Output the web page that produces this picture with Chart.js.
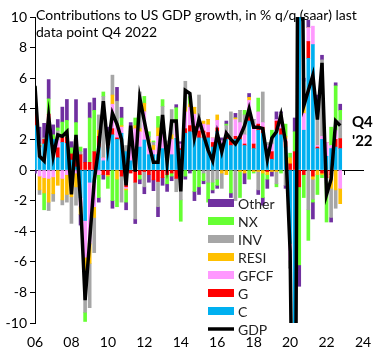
<!DOCTYPE html>
<html><head><meta charset="utf-8">
<script src="https://cdn.jsdelivr.net/npm/chart.js@4.4.1/dist/chart.umd.min.js"></script>
<style>html,body{margin:0;padding:0;background:#fff}#wrap{position:relative;width:385px;height:357px}</style>
</head><body><div id="wrap"><canvas id="c" width="385" height="357"></canvas></div>
<script>
const quarters = [];
for (let y = 2006; y <= 2022; y++) for (let q = 1; q <= 4; q++) quarters.push(y + 'Q' + q);
const xTicks = ['06','08','10','12','14','16','18','20','22','24'];

const C    = [2.9,1.5,1.7,2.9, 2.0,0.8,1.8,1.74, 0.65,0.2,-1.8,-3.3, -0.8,-0.8,1.5,0.6, 1.5,2.3,2.0,2.4, 1.2,0.6,1.3,1.5, 1.96,1.0,1.0,1.0, 1.4,1.1,1.0,2.07, 1.3,2.4,2.5,2.5, 2.1,2.1,2.1,1.5, 2.5,1.7,2.0,1.6, 2.0,2.0,1.6,3.2, 1.4,2.6,2.4,1.0, 0.7,2.6,2.3,1.5, -4.8,-23.5,27,2.6, 7.3,8.2,1.4,2.0, 0.9,1.4,1.5,1.4];
const G    = [0.8,0.1,0.3,0.75, 0.0,0.65,0.33,0.4, 0.4,0.5,1.0,0.5, 0.5,1.2,0.7,-0.3, -0.3,0.4,0.1,-0.4, -1.1,-0.2,-0.8,-0.3, -0.1,-0.3,-0.65,-0.75, -0.5,-0.3,-0.2,-0.55, 0.1,0.3,0.4,0.35, 0.45,0.45,0.35,0.3, 0.25,0.0,0.2,0.3, 0.2,0.2,0.1,0.45, 0.3,0.4,0.4,-0.1, 0.5,0.6,0.4,0.4, 0.4,1.2,-1.1,-0.3, 1.1,-0.4,0.1,-0.2, -0.5,-0.3,0.5,0.65];
const GFCF = [1.0,-0.4,-0.5,-0.55, -0.45,0.5,-0.55,-0.3, -0.65,-0.2,-0.6,-2.4, -4.0,-1.6,-0.3,0.2, 0.5,1.6,0.8,0.4, -0.1,1.2,1.4,1.0, 1.85,0.8,0.3,1.2, 1.0,0.4,1.0,1.0, 0.3,1.1,1.2,0.8, 0.6,0.45,0.5,0.3, 0.5,0.2,0.3,0.0, 1.1,0.9,0.6,0.9, 1.3,0.8,0.3,0.6, 0.5,0.1,0.3,0.1, -1.1,-4.5,3.0,1.1, 0.9,1.2,0.1,0.2, 0.9,0.2,0.6,-1.2];
const RESI = [0.0,-0.9,-1.0,-1.55, -1.1,-1.0,-1.4,-1.3, -1.1,-0.9,-0.5,-0.9, -1.3,-0.7,0.4,0.0, -0.1,0.6,-0.6,0.1, -0.1,0.1,0.2,0.2, 0.55,0.2,0.3,0.55, 0.3,0.2,0.3,0.0, -0.1,0.3,0.2,0.45, 0.0,0.2,0.35,0.0, 0.35,-0.2,-0.3,0.0, 0.1,-0.1,-0.2,0.2, -0.1,-0.1,-0.2,-0.2, -0.1,-0.1,0.2,0.2, 0.4,-1.6,2.0,1.1, 0.0,-0.2,-0.3,-0.1, 0.0,-0.9,-1.3,-1.0];
const INV  = [0.4,-0.3,0.1,-0.55, -0.5,0.6,-0.33,-0.5, -1.74,-1.2,0.2,-2.7, -2.9,-2.3,1.0,4.0, 0.5,1.3,1.6,-1.7, 0.4,0.2,-2.4,2.4, -1.0,0.2,0.2,-1.65, 1.45,0.2,1.65,-0.87, -1.85,1.7,0.0,0.0, 1.75,-0.2,-0.8,-0.8, -0.6,-1.0,0.4,1.9, -2.0,0.8,1.3,0.0, 0.3,-1.2,2.0,0.2, 0.4,-0.8,0.5,-1.0, -0.5,-3.7,6.6,1.0, -2.6,-1.3,2.2,5.0, -0.3,-1.9,-1.2,1.2];
const NX   = [0.3,0.1,-1.1,1.0, 0.3,0.2,1.0,1.1, 0.4,2.4,0.3,-0.6, 2.9,2.7,-1.5,0.3, -0.8,-2.0,-1.8,0.5, -0.8,0.4,0.5,-0.3, 0.45,0.3,0.1,0.75, 0.45,-0.6,-0.2,1.0, -1.4,-0.4,0.5,-1.4, -1.1,-0.5,-1.3,-0.5, -0.4,0.0,0.1,-1.5, 0.0,-1.7,0.3,-0.6, -0.1,0.9,-1.6,-0.3, 0.5,-0.2,-0.2,0.8, 0.3,1.3,-5.1,-1.5, -2.0,-0.2,-1.3,-0.2, -2.6,1.2,2.9,0.65];
const Other= [-0.2,1.1,0.95,1.26, 0.65,0.55,0.98,1.37, 0.4,1.5,-0.7,0.9, 1.0,0.8,-0.3,-0.3, 0.3,-0.5,0.9,0.7, -0.5,0.6,-0.3,-0.3, -0.45,-0.5,-0.7,-0.65, -0.5,-0.5,-0.3,0.2, 0.15,-0.2,-0.2,-0.6, -0.5,-0.2,0.0,-0.2, -0.2,0.2,0.2,-0.3, 0.3,0.0,-0.7,0.25, 0.0,-0.3,-0.5,-0.6, -0.3,0.5,0.1,-0.2, 0.0,0.9,-1.4,0.2, 0.5,-1.1,1.1,0.3, 0.0,-0.3,0.2,0.4];
const GDP  = [5.5,0.9,0.6,3.5, 0.9,2.3,2.2,2.5, -1.6,2.3,-2.1,-8.5, -4.6,-0.7,1.5,4.5, 1.5,3.7,3.0,2.0, -1.0,2.9,-0.1,4.7, 3.2,1.7,0.5,0.5, 3.6,0.5,3.2,3.2, -1.4,5.2,5.0,2.1, 3.3,2.3,1.3,0.6, 2.4,1.2,2.4,2.0, 1.7,2.2,2.9,4.0, 2.8,2.8,2.7,0.7, 2.1,2.5,3.6,1.8, -5.3,-29.9,35.3,4.2, 5.2,6.2,3.3,7.0, -1.6,-0.6,3.2,2.9];

const seriesNames = ['C','G','GFCF','RESI','INV','NX','Other'];
const seriesData = [C,G,GFCF,RESI,INV,NX,Other];
const seriesColors = ['#00B0F0','#FF0000','#FF99FF','#FFC000','#A6A6A6','#66FF33','#7030A0'];

const xOf = q => parseInt(q.slice(0,4)) + (parseInt(q.slice(5)) - 1) / 4;
const toPts = arr => arr.map((v,i) => ({x: xOf(quarters[i]), y: v}));

const datasets = seriesNames.map((n,i) => ({
  type: 'bar', label: n, data: toPts(seriesData[i]), backgroundColor: seriesColors[i],
  borderWidth: 0, barThickness: 3, stack: 'bars', order: 2
}));
datasets.push({
  type: 'line', label: 'GDP', data: toPts(GDP), borderColor: '#000', borderWidth: 3.5,
  pointRadius: 0, tension: 0, fill: false, stack: 'line', order: 0
});

const FONT = 'Lato, "Open Sans", sans-serif';
const overlay = {
  id: 'overlay',
  afterDraw(chart) {
    const ctx = chart.ctx;
    ctx.save();
    ctx.fillStyle = '#000';
    ctx.textBaseline = 'alphabetic';
    ctx.textAlign = 'left';
    ctx.font = '14px ' + FONT;
    ctx.fillText('Contributions to US GDP growth, in % q/q (saar) last', 36, 20);
    ctx.fillText('data point Q4 2022', 36, 37);
    ctx.font = 'bold 15px ' + FONT;
    ctx.fillText('Q4', 352, 127);
    ctx.fillText("'22", 352, 146);
    const order = [6,5,4,3,2,1,0];
    let y = 203;
    ctx.font = '14px ' + FONT;
    ctx.textBaseline = 'middle';
    order.forEach(i => {
      ctx.fillStyle = seriesColors[i];
      ctx.fillRect(208, y - 4, 26, 8);
      ctx.fillStyle = '#222';
      ctx.fillText(seriesNames[i], 238, y + 1);
      y += 18;
    });
    ctx.strokeStyle = '#000'; ctx.lineWidth = 3.5;
    ctx.beginPath(); ctx.moveTo(208, y); ctx.lineTo(234, y); ctx.stroke();
    ctx.fillStyle = '#222';
    ctx.fillText('GDP', 238, y + 1);
    ctx.restore();
  }
};

new Chart(document.getElementById('c'), {
  type: 'bar',
  data: { datasets },
  options: {
    responsive: false, animation: false, devicePixelRatio: 1, events: [],
    layout: { padding: { top: 17, right: 22, left: 0, bottom: 0 } },
    plugins: { legend: { display: false }, tooltip: { enabled: false }, title: { display: false } },
    scales: {
      x: {
        type: 'linear', position: 'bottom', min: 2006, max: 2024, offset: false, stacked: true,
        grid: { display: false, drawTicks: false, offset: false }, border: { display: false },
        ticks: { stepSize: 2, padding: 11, color: '#000', font: { family: FONT, size: 14 },
          callback: (v, i) => xTicks[i] !== undefined ? xTicks[i] : '', maxRotation: 0, autoSkip: false },
        afterFit: s => { s.height = 34; }
      },
      x0: {
        type: 'linear', position: { y: 0 }, min: 2006, max: 2024, offset: false, z: 1,
        grid: { drawOnChartArea: false, drawTicks: true, tickLength: 4, color: '#000' },
        border: { display: true, color: '#000', width: 1 },
        ticks: { display: false, stepSize: 2 }
      },
      y: {
        min: -10, max: 10, stacked: true,
        grid: { drawOnChartArea: false, drawTicks: true, tickLength: 5, color: '#000' },
        border: { display: true, color: '#000', width: 1 },
        ticks: { stepSize: 2, padding: 3, color: '#000', font: { family: FONT, size: 14 } },
        afterFit: s => { s.width = 35; }
      }
    }
  },
  plugins: [overlay]
});
</script>
</body></html>
